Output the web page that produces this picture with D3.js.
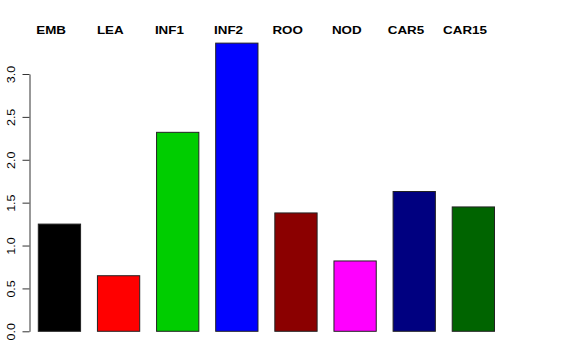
<!DOCTYPE html>
<html>
<head>
<meta charset="utf-8">
<script src="https://cdn.jsdelivr.net/npm/d3@7"></script>
<style>
  body { margin: 0; background: #fff; }
  text { font-family: "Liberation Sans", Arial, sans-serif; }
</style>
</head>
<body>
<svg id="chart" width="576" height="360"></svg>
<script>
const categories = ["EMB", "LEA", "INF1", "INF2", "ROO", "NOD", "CAR5", "CAR15"];
const values = [1.25, 0.648, 2.32, 3.36, 1.38, 0.82, 1.63, 1.45];
const colors = ["#000000", "#FF0000", "#00CD00", "#0000FF", "#8B0000", "#FF00FF", "#000080", "#006400"];
const yTicks = [0, 0.5, 1, 1.5, 2, 2.5, 3];

const svg = d3.select("#chart");

const x = d3.scaleBand()
  .domain(categories)
  .range([38.3, 494.5])
  .paddingInner(0.285)
  .paddingOuter(0);

const y = d3.scaleLinear().domain([0, 3]).range([331.3, 74]);

// bars
svg.append("g")
  .selectAll("rect")
  .data(categories)
  .join("rect")
  .attr("x", d => x(d))
  .attr("y", (d, i) => y(values[i]))
  .attr("width", x.bandwidth())
  .attr("height", (d, i) => y(0) - y(values[i]))
  .attr("fill", (d, i) => colors[i])
  .attr("stroke", "#222")
  .attr("stroke-width", 1);

// y axis, R style: rotated labels, line only from first to last tick
const yAxis = svg.append("g")
  .attr("transform", "translate(29.5,0)")
  .call(d3.axisLeft(y).tickValues(yTicks).tickSize(7).tickFormat(d3.format(".1f")).tickSizeOuter(0));

yAxis.select(".domain").attr("stroke", "#333");
yAxis.selectAll(".tick line").attr("stroke", "#333");
yAxis.selectAll(".tick text")
  .attr("x", null)
  .attr("dy", null)
  .attr("text-anchor", "middle")
  .attr("fill", "#000")
  .attr("font-size", 10)
  .attr("transform", "translate(-14.5,0) rotate(-90) scale(1.25,1)");

// category labels along the top
svg.append("g")
  .selectAll("text")
  .data(categories)
  .join("text")
  .attr("transform", d => `translate(${x(d) + x.bandwidth() / 2 - 8.3},34) scale(1.3,1)`)
  .attr("text-anchor", "middle")
  .attr("font-size", 10.3)
  .attr("font-weight", "bold")
  .attr("fill", "#000")
  .text(d => d);
</script>
</body>
</html>
